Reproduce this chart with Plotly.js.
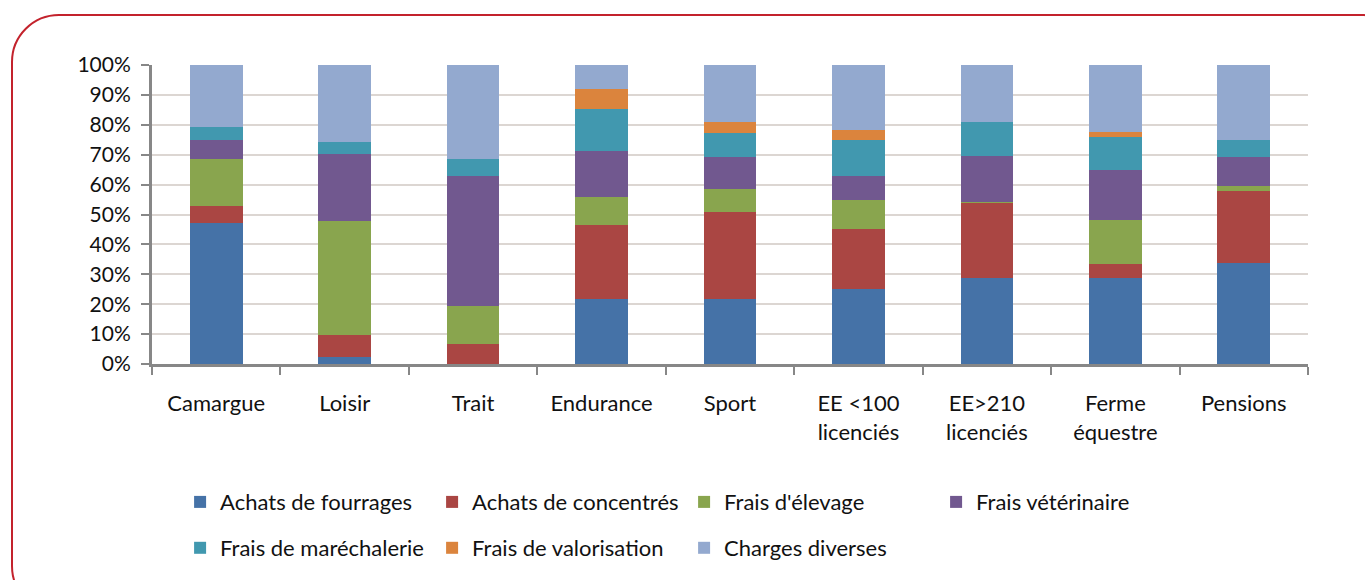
<!DOCTYPE html>
<html>
<head>
<meta charset="utf-8">
<script src="https://cdn.plot.ly/plotly-3.0.1.min.js"></script>
<style>
  html, body { margin: 0; padding: 0; background: #fff; overflow: hidden; }
  #frame {
    position: absolute; left: 11px; top: 14px; width: 1400px; height: 600px;
    border: 2px solid #c3222c; border-radius: 48px; box-sizing: border-box;
  }
  #chart { position: absolute; left: 0; top: 0; width: 1365px; height: 580px; }
</style>
</head>
<body>
<div id="frame"></div>
<div id="chart"></div>
<script>
// categories (x axis)
var categories = ["Camargue", "Loisir", "Trait", "Endurance", "Sport",
  "EE <100<br>licenciés", "EE>210<br>licenciés", "Ferme<br>équestre", "Pensions"];

// share of each cost item, in %
var achatsFourrages  = [47.0,  2.2,  0.0, 21.9, 21.9, 25.2, 28.9, 28.9, 33.9];
var achatsConcentres = [ 5.8,  7.6,  6.7, 24.5, 29.0, 20.1, 24.8,  4.4, 23.9];
var fraisElevage     = [15.8, 38.0, 12.7,  9.5,  7.7,  9.4,  0.5, 15.0,  1.9];
var fraisVeterinaire = [ 6.2, 22.5, 43.4, 15.2, 10.5,  8.1, 15.5, 16.7,  9.4];
var fraisMarechal    = [ 4.3,  3.8,  5.8, 14.1,  8.1, 12.0, 11.4, 10.8,  5.7];
var fraisValorisation= [ 0.0,  0.0,  0.0,  6.8,  3.9,  3.3,  0.0,  1.8,  0.0];
var chargesDiverses  = [20.9, 25.9, 31.4,  8.0, 18.9, 21.9, 18.9, 22.4, 25.2];

var seriesNames = ["Achats de fourrages", "Achats de concentrés", "Frais d'élevage",
  "Frais vétérinaire", "Frais de maréchalerie", "Frais de valorisation", "Charges diverses"];
var seriesValues = [achatsFourrages, achatsConcentres, fraisElevage, fraisVeterinaire,
  fraisMarechal, fraisValorisation, chargesDiverses];
var seriesColors = ["#4572a7", "#aa4643", "#89a54e", "#71588f", "#4198af", "#db843d", "#93a9cf"];

var data = seriesNames.map(function(name, i) {
  return {
    x: categories,
    y: seriesValues[i],
    name: name,
    type: "bar",
    marker: {color: seriesColors[i]},
    legend: i < 4 ? "legend" : "legend2"
  };
});

var legendFont = {family: "Lato, 'Open Sans', sans-serif", size: 22, color: "#111"};

var layout = {
  width: 1365,
  height: 580,
  barmode: "stack",
  bargap: 0.59,
  paper_bgcolor: "rgba(0,0,0,0)",
  plot_bgcolor: "#fff",
  margin: {l: 152, r: 57, t: 65, b: 215},
  font: {family: "Lato, 'Open Sans', sans-serif", size: 20, color: "#111"},
  xaxis: {
    showline: true, linecolor: "#878787", linewidth: 3,
    ticks: "outside", tickson: "boundaries", ticklen: 8, tickcolor: "#878787", tickwidth: 2,
    ticklabelstandoff: 18,
    tickfont: {size: 22}, fixedrange: true
  },
  yaxis: {
    range: [0, 100], dtick: 10, ticksuffix: "%",
    showline: true, linecolor: "#878787", linewidth: 3,
    ticks: "outside", ticklen: 8, tickcolor: "#878787", tickwidth: 2,
    ticklabelstandoff: 6,
    gridcolor: "#dcd6d2", gridwidth: 2,
    tickfont: {size: 21}, fixedrange: true
  },
  legend: {
    orientation: "h", x: 0.0243, y: -0.457, xanchor: "left", yanchor: "middle",
    entrywidth: 207, font: legendFont, traceorder: "normal", bgcolor: "rgba(0,0,0,0)"
  },
  legend2: {
    orientation: "h", x: 0.0243, y: -0.61, xanchor: "left", yanchor: "middle",
    entrywidth: 207, font: legendFont, traceorder: "normal", bgcolor: "rgba(0,0,0,0)"
  },
  showlegend: true
};

Plotly.newPlot("chart", data, layout, {displayModeBar: false, staticPlot: true});
</script>
</body>
</html>
